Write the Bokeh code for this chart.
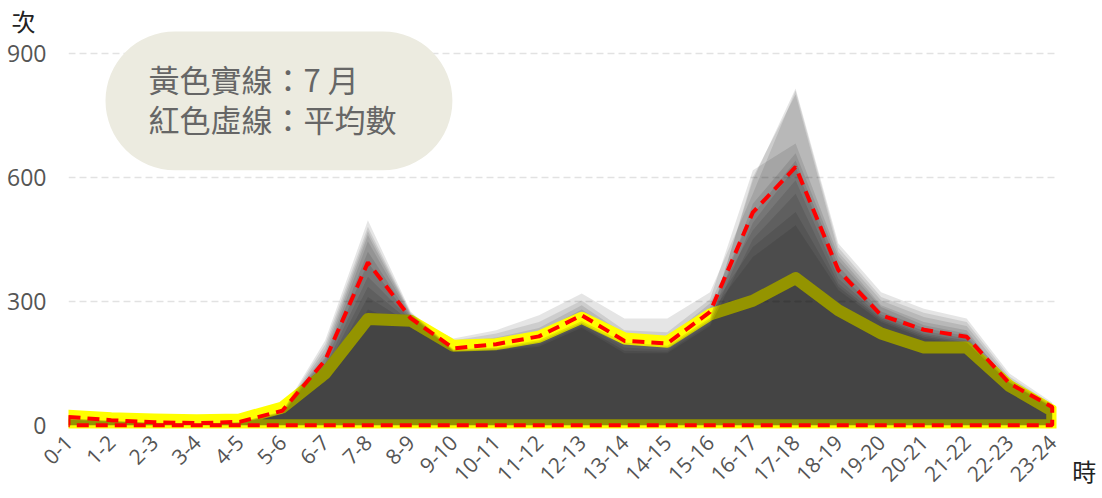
from bokeh.plotting import figure
from bokeh.models import BoxAnnotation, Label, FixedTicker, Range1d
from bokeh.embed import file_html
from bokeh.resources import INLINE
import math

# ---- data ----
hour_labels = ["0-1", "1-2", "2-3", "3-4", "4-5", "5-6", "6-7", "7-8", "8-9", "9-10",
               "10-11", "11-12", "12-13", "13-14", "14-15", "15-16", "16-17", "17-18",
               "18-19", "19-20", "20-21", "21-22", "22-23", "23-24"]

jan = [25, 16, 10, 8, 12, 48, 160, 420, 262, 210, 230, 266, 319, 258, 258, 322, 560, 810, 430, 310, 272, 250, 118, 50]
feb = [24, 15, 9, 7, 11, 45, 150, 394, 258, 205, 222, 250, 302, 230, 225, 305, 617, 682, 410, 290, 250, 230, 100, 45]
mar = [22, 14, 8, 6, 10, 42, 140, 359, 255, 200, 212, 235, 290, 220, 210, 295, 510, 640, 385, 275, 235, 215, 98, 42]
apr = [22, 13, 8, 5, 9, 40, 130, 335, 250, 196, 205, 225, 280, 214, 205, 285, 472, 593, 355, 262, 222, 205, 96, 40]
may = [21, 12, 7, 5, 8, 38, 118, 310, 245, 190, 200, 220, 272, 208, 200, 278, 431, 516, 335, 254, 214, 198, 94, 38]
jun = [20, 12, 7, 4, 8, 36, 105, 280, 240, 188, 198, 216, 265, 205, 196, 270, 407, 484, 327, 250, 210, 195, 90, 36]
jul = [23, 17, 14, 12, 14, 43, 125, 257, 253, 192, 196, 214, 260, 210, 202, 268, 301, 356, 278, 222, 188, 188, 95, 35]
aug = [17, 11, 6, 4, 7, 34, 205, 496, 275, 184, 188, 206, 252, 200, 192, 260, 593, 815, 440, 322, 282, 258, 125, 55]
sep = [16, 10, 6, 4, 7, 32, 195, 480, 272, 182, 186, 202, 248, 194, 188, 255, 600, 800, 419, 302, 262, 240, 112, 48]
oct_ = [15, 10, 5, 3, 6, 30, 185, 470, 270, 180, 184, 198, 244, 188, 182, 250, 536, 658, 399, 286, 242, 222, 108, 46]
nov = [14, 9, 5, 3, 6, 28, 175, 460, 268, 179, 182, 194, 240, 180, 178, 245, 490, 625, 370, 268, 228, 210, 104, 44]
dec = [13, 8, 4, 3, 5, 26, 165, 445, 265, 178, 180, 190, 236, 174, 174, 240, 450, 560, 343, 258, 218, 200, 102, 43]
average = [20, 12, 7, 5, 8, 35, 157, 394, 259, 186, 196, 215, 266, 204, 198, 274, 515, 625, 375, 266, 231, 214, 101, 44]

months_before = [jan, feb, mar, apr, may, jun]
months_after = [aug, sep, oct_, nov, dec]

y_ticks = [0, 300, 600, 900]
legend_line1 = "黃色實線：7 月"
legend_line2 = "紅色虛線：平均數"

x = list(range(len(hour_labels)))
n = len(x)

def closed(vals):
    return x + [n - 1, 0], list(vals) + [0, 0]

p = figure(frame_width=988, frame_height=400,
           x_range=Range1d(0, 23.1), y_range=Range1d(-8, 960),
           output_backend="svg", toolbar_location=None,
           min_border_left=68, min_border_top=28, min_border_right=44, min_border_bottom=68,
           background_fill_color="white", border_fill_color="white",
           outline_line_color=None)

# gray layers (month areas), July with yellow outline in sequence
for vals in months_before:
    xs, ys = closed(vals)
    p.patch(xs, ys, fill_color="black", fill_alpha=0.1, line_color=None)

xs, ys = closed(jul)
p.patch(xs, ys, fill_color="black", fill_alpha=0.1, line_color="#ffff00",
        line_width=12, line_join="round")

for vals in months_after:
    xs, ys = closed(vals)
    p.patch(xs, ys, fill_color="black", fill_alpha=0.1, line_color=None)

xs, ys = closed(average)
p.patch(xs, ys, fill_color=None, fill_alpha=0, line_color="#ff0000",
        line_width=4, line_dash="12 7")

# axes
p.xaxis.ticker = FixedTicker(ticks=x)
p.xaxis.major_label_overrides = {i: lab for i, lab in enumerate(hour_labels)}
p.xaxis.major_label_orientation = math.pi / 4
p.yaxis.ticker = FixedTicker(ticks=y_ticks)
for ax in (p.xaxis[0], p.yaxis[0]):
    ax.axis_line_color = None
    ax.major_tick_line_color = None
    ax.minor_tick_line_color = None
    ax.major_tick_in = 0
    ax.major_tick_out = 0
    ax.major_label_text_color = "#555555"
    ax.major_label_text_font = "Open Sans"
p.xaxis.major_label_text_font_size = "21px"
p.xaxis.major_label_standoff = 10
p.yaxis.major_label_text_font_size = "23px"
p.yaxis.major_label_standoff = 22

p.xgrid.grid_line_color = None
p.ygrid.ticker = FixedTicker(ticks=y_ticks)
p.ygrid.grid_line_color = "#e2e2e2"
p.ygrid.grid_line_width = 1.5
p.ygrid.grid_line_dash = "7 4"

# legend pill
pill = BoxAnnotation(left=0.865, right=8.976, bottom=617, top=953,
                     fill_color="#ecebe0", fill_alpha=1, line_color=None,
                     border_radius=70)
p.add_layout(pill)
p.add_layout(Label(x=1.87, y=839, text=legend_line1, text_align="left", text_baseline="middle",
                   text_font="Noto Sans CJK TC", text_font_size="31px", text_color="#666666"))
p.add_layout(Label(x=1.87, y=743, text=legend_line2, text_align="left", text_baseline="middle",
                   text_font="Noto Sans CJK TC", text_font_size="31px", text_color="#666666"))

# axis titles (placed in the right side panel so they are not clipped to the frame)
p.add_layout(Label(x=-1.05, y=980, text="次", text_align="center", text_baseline="middle",
                   text_font="Noto Sans CJK TC", text_font_size="24px", text_color="#222222"), "right")
p.add_layout(Label(x=23.75, y=-109, text="時", text_align="center", text_baseline="middle",
                   text_font="Noto Sans CJK TC", text_font_size="24px", text_color="#222222"), "right")

open("out.html", "w").write(file_html(p, INLINE))
